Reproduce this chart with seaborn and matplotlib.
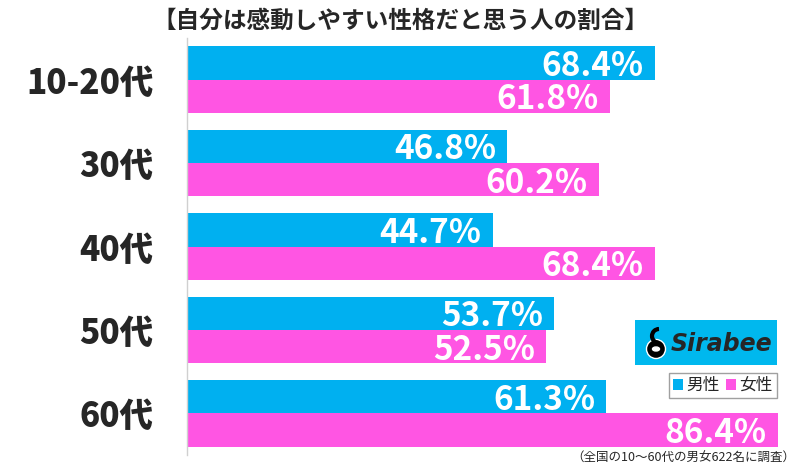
import matplotlib
matplotlib.use("Agg")
import matplotlib.pyplot as plt
import seaborn as sns
import pandas as pd
from matplotlib.patches import Rectangle, Patch, Ellipse, Arc

categories = ["10-20代", "30代", "40代", "50代", "60代"]
male = [68.4, 46.8, 44.7, 53.7, 61.3]
female = [61.8, 60.2, 68.4, 52.5, 86.4]
series = ["男性", "女性"]
colors = ["#00B0F0", "#FF55E3"]
title = "【自分は感動しやすい性格だと思う人の割合】"
note = "（全国の10〜60代の男女622名に調査）"

sns.set_style("white")
plt.rcParams["font.family"] = ["Noto Sans CJK JP", "DejaVu Sans"]

df = pd.DataFrame({
    "cat": categories * 2,
    "val": male + female,
    "sex": [series[0]] * len(categories) + [series[1]] * len(categories),
})

fig = plt.figure(figsize=(8, 4.66), dpi=100)
ax = fig.add_axes([187 / 800, 1 - 455 / 466, (778 - 187) / 800, (455 - 38) / 466])
sns.barplot(data=df, y="cat", x="val", hue="sex", palette=colors, orient="h",
            width=0.8, legend=False, ax=ax, saturation=1, linewidth=0)
ax.set_xlim(0, max(male + female))
ax.set_ylim(4.5, -0.5)
ax.set_xlabel("")
ax.set_ylabel("")
ax.set_xticks([])
for s in ["top", "right", "bottom"]:
    ax.spines[s].set_visible(False)
ax.spines["left"].set_color("#d0d0d0")
ax.spines["left"].set_linewidth(1)
ax.tick_params(axis="y", length=0, pad=24)
for t in ax.get_yticklabels():
    t.set_fontsize(24)
    t.set_fontweight("heavy")

for cont in ax.containers:
    for p in cont.patches:
        w = p.get_width()
        ax.annotate(f"{w:.1f}%", (w, p.get_y() + p.get_height() / 2),
                    xytext=(-8, 0), textcoords="offset points",
                    ha="right", va="center_baseline", color="white",
                    fontsize=24, fontweight="bold")

fig.text(0.5, 1 - 21 / 466, title, ha="center", va="center",
         fontsize=17, fontweight="bold")
fig.text(795 / 800, 1 - 458 / 466, note, ha="right", va="center", fontsize=9)

# logo
fig.patches.append(Rectangle((635 / 800, 1 - 365 / 466), 142 / 800, 45 / 466,
                             transform=fig.transFigure, facecolor="#00B8EE",
                             edgecolor="none"))
fig.patches.append(Ellipse((656 / 800, 1 - 349 / 466), 19 / 800, 19 / 466,
                           transform=fig.transFigure, facecolor="black"))
fig.patches.append(Arc((659 / 800, 1 - 336 / 466), 14 / 800, 14 / 466,
                       theta1=90, theta2=270, transform=fig.transFigure,
                       edgecolor="black", linewidth=3))
fig.patches.append(Ellipse((656 / 800, 1 - 349 / 466), 7 / 800, 4 / 466,
                           transform=fig.transFigure, facecolor="white"))
fig.text(671 / 800, 1 - 344 / 466, "Sirabee", ha="left", va="center",
         fontsize=17, fontweight="bold", style="italic", family="DejaVu Sans")

handles = [Patch(facecolor=c, edgecolor="none", label=l) for c, l in zip(colors, series)]
leg = fig.legend(handles=handles, ncol=2, loc="upper right",
                 bbox_to_anchor=(777 / 800, 1 - 373 / 466), fontsize=12,
                 frameon=True, fancybox=False, handlelength=0.6, handleheight=0.6,
                 handletextpad=0.2, columnspacing=0.4, borderpad=0.25,
                 borderaxespad=0)
leg.get_frame().set_edgecolor("#888888")
leg.get_frame().set_linewidth(1)

fig.savefig("out.png", dpi=100)
